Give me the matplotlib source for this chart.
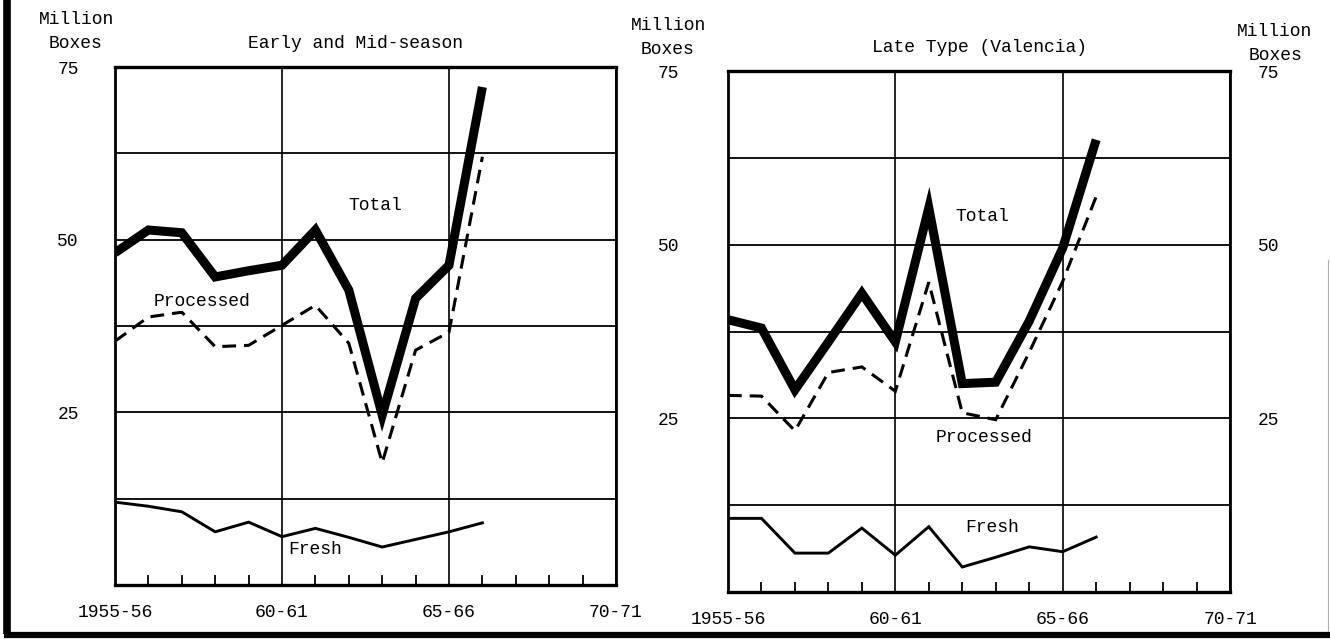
import matplotlib
matplotlib.use("Agg")
import matplotlib.pyplot as plt
from matplotlib.lines import Line2D
import numpy as np

# ---------------- data ----------------
years = [1955, 1956, 1957, 1958, 1959, 1960, 1961, 1962, 1963, 1964, 1965, 1966]
xtick_pos = [1955, 1960, 1965, 1970]
xtick_labels = ["1955-56", "60-61", "65-66", "70-71"]
ytick_pos = [25, 50, 75]
ytick_labels = ["25", "50", "75"]

early_total = [48.1, 51.4, 51.0, 44.6, 45.5, 46.3, 51.4, 42.7, 24.6, 41.5, 46.3, 72.1]
early_processed = [35.3, 38.8, 39.5, 34.5, 34.7, 37.6, 40.5, 35.0, 17.7, 34.0, 36.6, 62.0]
early_fresh = [12.0, 11.4, 10.6, 7.7, 9.1, 7.0, 8.2, 6.9, 5.5, 6.6, 7.7, 9.0]

late_total = [39.2, 38.0, 29.1, 36.0, 43.0, 36.0, 55.3, 30.0, 30.2, 39.0, 49.5, 65.1]
late_processed = [28.3, 28.2, 23.2, 31.6, 32.4, 28.9, 44.6, 25.8, 24.8, 34.5, 44.7, 56.9]
late_fresh = [10.6, 10.6, 5.6, 5.6, 9.2, 5.3, 9.4, 3.6, 5.0, 6.5, 5.8, 7.9]

FONT = ["Liberation Mono", "DejaVu Sans Mono"]
FS = 13

W, H = 1330, 639
fig = plt.figure(figsize=(W / 100, H / 100), dpi=100)
fig.patch.set_facecolor("white")


def fx(px):
    return px / W


def fy(py):
    return 1 - py / H


def make_panel(rect, total, processed, fresh, ypad_left):
    ax = fig.add_axes(rect)
    ax.set_xlim(1955, 1970)
    ax.set_ylim(0, 75)
    ax.plot(years, total, color="black", lw=6.5, solid_joinstyle="miter",
            solid_capstyle="butt", zorder=4)
    ax.plot(years, processed, color="black", lw=2.2, dashes=(4.5, 2.6),
            dash_joinstyle="miter", zorder=3)
    ax.plot(years, fresh, color="black", lw=2.1, solid_joinstyle="miter", zorder=3)

    ax.set_xticks(xtick_pos)
    ax.set_xticklabels(xtick_labels, fontfamily=FONT, fontsize=FS)
    ax.set_xticks(np.arange(1956, 1970, 1), minor=True)
    ax.tick_params(axis="x", which="major", length=0, pad=13.5)
    ax.tick_params(axis="x", which="minor", direction="in", length=7.5, width=1.3)

    ax.set_yticks(ytick_pos)
    ax.set_yticklabels(ytick_labels, fontfamily=FONT, fontsize=FS)
    ax.set_yticks([12.5, 37.5, 62.5], minor=True)
    ax.tick_params(axis="y", which="both", length=0, pad=ypad_left)

    ax.grid(True, which="major", axis="x", color="black", lw=1.2)
    ax.grid(True, which="both", axis="y", color="black", lw=1.3)
    ax.set_axisbelow(True)
    for s in ax.spines.values():
        s.set_linewidth(2.0)
        s.set_color("black")
    ax.spines["bottom"].set_linewidth(2.4)
    ax.spines["top"].set_linewidth(2.4)
    return ax


axL = make_panel([fx(115), fy(585), fx(616) - fx(115), fy(67) - fy(585)],
                 early_total, early_processed, early_fresh, 26)
axR = make_panel([fx(728), fy(592), fx(1230) - fx(728), fy(71) - fy(592)],
                 late_total, late_processed, late_fresh, 35)

# right-side y labels for the late panel
axR2 = axR.twinx()
axR2.set_ylim(0, 75)
axR2.set_yticks(ytick_pos)
axR2.set_yticklabels(ytick_labels, fontfamily=FONT, fontsize=FS)
axR2.tick_params(axis="y", length=0, pad=20)
for s in axR2.spines.values():
    s.set_visible(False)

# in-panel series labels
axL.text(1962.8, 55.0, "Total", fontfamily=FONT, fontsize=FS, ha="center", va="center")
axL.text(1957.6, 41.0, "Processed", fontfamily=FONT, fontsize=FS, ha="center", va="center",
         bbox=dict(facecolor="white", edgecolor="none", pad=0.5))
axL.text(1961.0, 5.2, "Fresh", fontfamily=FONT, fontsize=FS, ha="center", va="center")
axR.text(1962.6, 54.0, "Total", fontfamily=FONT, fontsize=FS, ha="center", va="center")
axR.text(1962.65, 22.3, "Processed", fontfamily=FONT, fontsize=FS, ha="center", va="center",
         bbox=dict(facecolor="white", edgecolor="none", pad=0.5))
axR.text(1962.9, 9.3, "Fresh", fontfamily=FONT, fontsize=FS, ha="center", va="center")

# titles and unit labels
fig.text(fx(356), fy(43), "Early and Mid-season", fontfamily=FONT, fontsize=FS,
         ha="center", va="center")
fig.text(fx(980), fy(48), "Late Type (Valencia)", fontfamily=FONT, fontsize=FS,
         ha="center", va="center")
for cx, y1, y2 in [(76, 20, 43), (668, 25, 50), (1275, 32, 55)]:
    fig.text(fx(cx), fy(y1), "Million", fontfamily=FONT, fontsize=FS,
             ha="center", va="center")
    fig.text(fx(cx), fy(y2), "Boxes", fontfamily=FONT, fontsize=FS,
             ha="center", va="center")

# outer page border (left and bottom heavy rules)
fig.add_artist(Line2D([fx(7), fx(7)], [fy(0), fy(634)], color="black", lw=5.5,
                      solid_capstyle="butt"))
fig.add_artist(Line2D([fx(4), fx(1330)], [fy(634.5), fy(634.5)], color="black", lw=4.5,
                      solid_capstyle="butt"))
fig.add_artist(Line2D([fx(1328), fx(1328)], [fy(260), fy(631)], color="#b0b0b0", lw=0.8))

fig.savefig("out.png", dpi=100, facecolor="white")
